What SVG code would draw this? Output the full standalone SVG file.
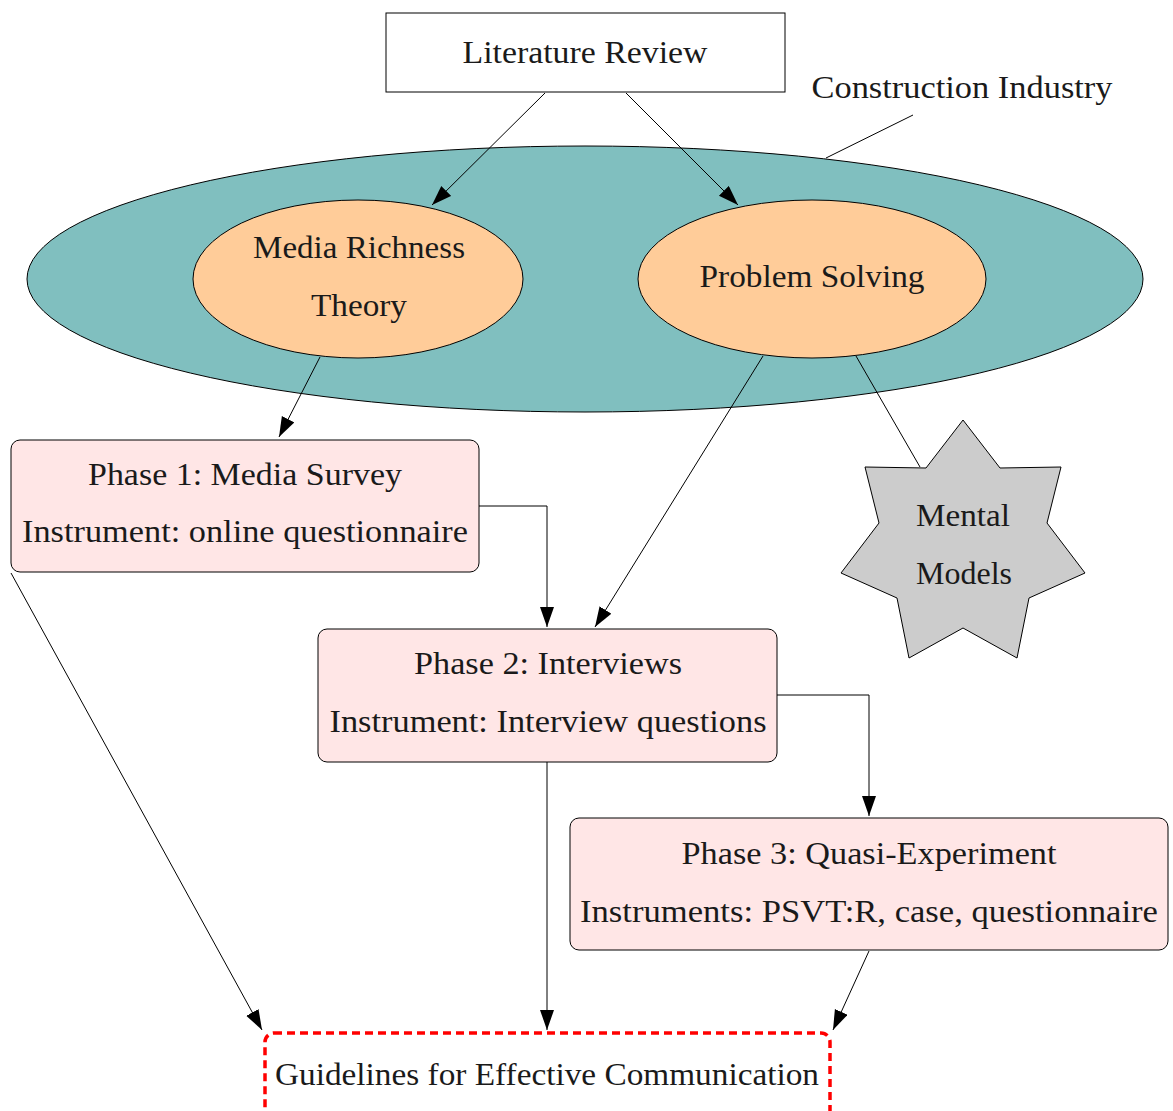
<svg xmlns="http://www.w3.org/2000/svg" width="1173" height="1111" viewBox="0 0 1173 1111">
<style>
text{font-family:"Liberation Serif",serif;font-size:31px;fill:#1a1a1a;text-anchor:middle}
.box{fill:#ffe6e6;stroke:#000;stroke-width:1}
.ell{stroke:#000;stroke-width:1}
.con{fill:none;stroke:#000;stroke-width:1}
</style>
<defs>
<marker id="ah" markerUnits="userSpaceOnUse" markerWidth="22" markerHeight="16" refX="20" refY="7" orient="auto">
<path d="M0,0 L20,7 L0,14 z" fill="#000"/>
</marker>
</defs>
<g id="construction-industry">
<ellipse class="ell" cx="585" cy="279" rx="558" ry="133" fill="#80bfbf"/>
<text x="962" y="98" textLength="301" lengthAdjust="spacingAndGlyphs">Construction Industry</text>
</g>
<g id="literature-review">
<rect x="386" y="13" width="399" height="79" fill="#fff" stroke="#000" stroke-width="1"/>
<text x="585" y="63" textLength="245" lengthAdjust="spacingAndGlyphs">Literature Review</text>
</g>
<g id="media-richness">
<ellipse class="ell" cx="358" cy="279" rx="165" ry="79" fill="#ffcc99"/>
<text x="359" y="258" textLength="212" lengthAdjust="spacingAndGlyphs">Media Richness</text>
<text x="359" y="316" textLength="96" lengthAdjust="spacingAndGlyphs">Theory</text>
</g>
<g id="problem-solving">
<ellipse class="ell" cx="812" cy="279" rx="174" ry="79" fill="#ffcc99"/>
<text x="812" y="287" textLength="225" lengthAdjust="spacingAndGlyphs">Problem Solving</text>
</g>
<g id="mental-models">
<polygon points="963,420 1000,468 1061,467 1047,523 1085,573 1029,598 1017,658 963,628 909,658 897,598 841,573 879,523 865,467 926,468" fill="#cccccc" stroke="#000" stroke-width="1"/>
<text x="963" y="526" textLength="94" lengthAdjust="spacingAndGlyphs">Mental</text>
<text x="964" y="584" textLength="96" lengthAdjust="spacingAndGlyphs">Models</text>
</g>
<g id="phase1">
<rect class="box" x="11" y="440" width="468" height="132" rx="9"/>
<text x="245" y="485" textLength="314" lengthAdjust="spacingAndGlyphs">Phase 1: Media Survey</text>
<text x="245" y="542" textLength="446" lengthAdjust="spacingAndGlyphs">Instrument: online questionnaire</text>
</g>
<g id="phase2">
<rect class="box" x="318" y="629" width="459" height="133" rx="9"/>
<text x="548" y="674" textLength="268" lengthAdjust="spacingAndGlyphs">Phase 2: Interviews</text>
<text x="548" y="732" textLength="437" lengthAdjust="spacingAndGlyphs">Instrument: Interview questions</text>
</g>
<g id="phase3">
<rect class="box" x="570" y="818" width="598" height="132" rx="9"/>
<text x="869" y="864" textLength="375" lengthAdjust="spacingAndGlyphs">Phase 3: Quasi-Experiment</text>
<text x="869" y="922" textLength="578" lengthAdjust="spacingAndGlyphs">Instruments: PSVT:R, case, questionnaire</text>
</g>
<g id="guidelines">
<rect x="265" y="1033" width="565" height="100" rx="9" fill="none" stroke="#ff0000" stroke-width="3.5" stroke-dasharray="8,5"/>
<text x="547" y="1085" textLength="544" lengthAdjust="spacingAndGlyphs">Guidelines for Effective Communication</text>
</g>
<g id="connectors">
<line class="con" x1="826" y1="158" x2="913" y2="115"/>
<line class="con" x1="545" y1="93" x2="432" y2="205" marker-end="url(#ah)"/>
<line class="con" x1="626" y1="93" x2="738" y2="205" marker-end="url(#ah)"/>
<line class="con" x1="320" y1="357" x2="279" y2="437" marker-end="url(#ah)"/>
<line class="con" x1="763" y1="356" x2="595" y2="627" marker-end="url(#ah)"/>
<line class="con" x1="856" y1="356" x2="920" y2="467"/>
<polyline class="con" points="479,506 547,506 547,627" marker-end="url(#ah)"/>
<line class="con" x1="11" y1="573" x2="262" y2="1030" marker-end="url(#ah)"/>
<polyline class="con" points="777,695 869,695 869,816" marker-end="url(#ah)"/>
<line class="con" x1="547" y1="762" x2="547" y2="1030" marker-end="url(#ah)"/>
<line class="con" x1="869" y1="951" x2="833" y2="1030" marker-end="url(#ah)"/>
</g>
</svg>
